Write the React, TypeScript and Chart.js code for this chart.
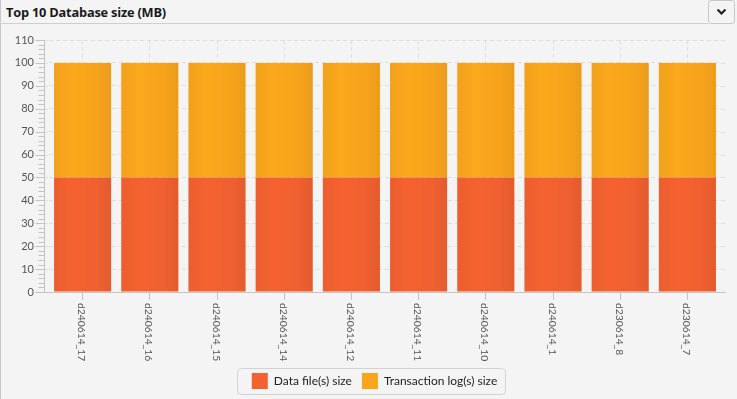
import React, { useEffect, useRef } from "react";
import { Chart, registerables } from "chart.js";

Chart.register(...registerables);

const categories = [
  "d240614_17",
  "d240614_16",
  "d240614_15",
  "d240614_14",
  "d240614_12",
  "d240614_11",
  "d240614_10",
  "d240614_1",
  "d230614_8",
  "d230614_7",
];
const dataFileSize = [50, 50, 50, 50, 50, 50, 50, 50, 50, 50];
const transactionLogSize = [50, 50, 50, 50, 50, 50, 50, 50, 50, 50];
const yMax = 110;
const yStep = 10;
const yMinorStep = 2;

const FONT = "Lato, 'Open Sans', sans-serif";
const AXIS_COLOR = "#c4c4c4";
const GRID_COLOR = "#dedede";
const DASH = [4, 3];
const GAP = 5; // inset of category range inside the axis frame

function shade(hex: string, f: number) {
  const n = parseInt(hex.slice(1), 16);
  const r = Math.round(((n >> 16) & 255) * f);
  const g = Math.round(((n >> 8) & 255) * f);
  const b = Math.round((n & 255) * f);
  return `rgb(${Math.min(255, r)},${Math.min(255, g)},${Math.min(255, b)})`;
}

const gradientPlugin = {
  id: "barGradient",
  beforeDatasetsDraw(chart: any) {
    const ctx = chart.ctx;
    chart.data.datasets.forEach((ds: any, di: number) => {
      const meta = chart.getDatasetMeta(di);
      const base = ds.baseColor as string;
      meta.data.forEach((el: any) => {
        const half = el.width / 2;
        const g = ctx.createLinearGradient(el.x - half, 0, el.x + half, 0);
        g.addColorStop(0, shade(base, 0.97));
        g.addColorStop(0.3, shade(base, 1.01));
        g.addColorStop(0.75, shade(base, 0.99));
        g.addColorStop(1, shade(base, 0.94));
        el.options = Object.assign({}, el.options, { backgroundColor: g });
      });
    });
  },
};

const axisExtrasPlugin = {
  id: "axisExtras",
  afterLayout(chart: any) {
    const lg = chart.legend;
    if (lg) {
      lg.left += 14;
      lg.right += 14;
    }
  },
  beforeDatasetsDraw(chart: any) {
    const ctx = chart.ctx;
    const ys = chart.scales.y;
    const ca = chart.chartArea;
    ctx.save();
    ctx.strokeStyle = GRID_COLOR;
    ctx.lineWidth = 1;
    ctx.setLineDash(DASH);
    for (let v = 0; v <= yMax; v += yStep) {
      const py = Math.round(ys.getPixelForValue(v)) + 0.5;
      ctx.beginPath();
      ctx.moveTo(ca.left - GAP, py);
      ctx.lineTo(ca.left, py);
      ctx.moveTo(ca.right, py);
      ctx.lineTo(ca.right + GAP, py);
      ctx.stroke();
    }
    ctx.restore();
  },
  afterDatasetsDraw(chart: any) {
    const ctx = chart.ctx;
    const ys = chart.scales.y;
    const xs = chart.scales.x;
    const ca = chart.chartArea;
    const axisX = ca.left - GAP + 0.5;
    const axisY = Math.round(ys.getPixelForValue(0)) + 0.5;
    ctx.save();
    ctx.strokeStyle = AXIS_COLOR;
    ctx.lineWidth = 1;
    // axis lines
    ctx.beginPath();
    ctx.moveTo(axisX, Math.round(ys.getPixelForValue(yMax)));
    ctx.lineTo(axisX, axisY);
    ctx.lineTo(ca.right + GAP, axisY);
    ctx.stroke();
    // y ticks: major and minor
    for (let v = 0; v <= yMax; v += yMinorStep) {
      const major = v % yStep === 0;
      const py = Math.round(ys.getPixelForValue(v)) + 0.5;
      ctx.beginPath();
      ctx.moveTo(axisX - (major ? 9 : 6), py);
      ctx.lineTo(axisX, py);
      ctx.stroke();
    }
    // x labels rotated clockwise (read top to bottom)
    ctx.fillStyle = "#555";
    ctx.font = `10.3px ${FONT}`;
    ctx.textAlign = "left";
    ctx.textBaseline = "middle";
    const labels = chart.data.labels as string[];
    labels.forEach((lab, i) => {
      const px = xs.getPixelForTick(i);
      ctx.save();
      ctx.translate(px - 1, xs.top + 11);
      ctx.rotate(Math.PI / 2);
      ctx.fillText(lab, 0, 0);
      ctx.restore();
    });
    ctx.restore();
  },
  afterDraw(chart: any) {
    const ctx = chart.ctx;
    const lg = chart.legend;
    if (lg && lg.legendHitBoxes && lg.legendHitBoxes.length) {
      const boxes = lg.legendHitBoxes;
      const l = boxes[0].left - 15;
      const r = boxes[boxes.length - 1].left + boxes[boxes.length - 1].width + 8;
      const t = boxes[0].top - 5;
      const b = boxes[0].top + boxes[0].height + 5;
      ctx.save();
      ctx.strokeStyle = "#d2d2d2";
      ctx.lineWidth = 1;
      ctx.beginPath();
      (ctx as any).roundRect(Math.round(l) + 0.5, Math.round(t) + 0.5, Math.round(r - l), Math.round(b - t), 4);
      ctx.stroke();
      ctx.restore();
    }
  },
};

function BarChart() {
  const ref = useRef<HTMLCanvasElement | null>(null);
  useEffect(() => {
    if (!ref.current) return;
    const chart = new Chart(ref.current, {
      type: "bar",
      data: {
        labels: categories,
        datasets: [
          {
            label: "Data file(s) size",
            data: dataFileSize,
            backgroundColor: "#F26130",
            baseColor: "#F26130",
            barPercentage: 0.85,
            categoryPercentage: 1,
          } as any,
          {
            label: "Transaction log(s) size",
            data: transactionLogSize,
            backgroundColor: "#F9A61C",
            baseColor: "#F9A61C",
            barPercentage: 0.85,
            categoryPercentage: 1,
          } as any,
        ],
      },
      options: {
        animation: false,
        responsive: false,
        maintainAspectRatio: false,
        layout: { padding: { top: 15, right: 16, left: 0, bottom: 0 } },
        plugins: {
          title: { display: false },
          tooltip: { enabled: false },
          legend: {
            display: true,
            position: "bottom",
            labels: {
              boxWidth: 16,
              boxHeight: 16,
              padding: 10,
              color: "#222",
              font: { family: FONT, size: 12 },
            },
          },
        },
        scales: {
          x: {
            stacked: true,
            offset: true,
            grid: {
              offset: false,
              color: GRID_COLOR,
              tickColor: AXIS_COLOR,
              tickLength: 8,
              drawTicks: true,
              tickBorderDash: [],
            },
            border: { display: false, dash: DASH },
            ticks: {
              color: "transparent",
              minRotation: 90,
              maxRotation: 90,
              autoSkip: false,
              font: { family: FONT, size: 11 },
            },
            afterFit: (scale: any) => {
              scale.height = 71;
            },
          },
          y: {
            stacked: true,
            min: 0,
            max: yMax,
            grid: {
              color: GRID_COLOR,
              drawTicks: true,
              tickLength: 13,
              tickColor: "rgba(0,0,0,0)",
            },
            border: { display: false, dash: DASH },
            ticks: {
              stepSize: yStep,
              color: "#555",
              padding: 2,
              font: { family: FONT, size: 11 },
            },
            afterFit: (scale: any) => {
              scale.width = 49;
            },
          },
        },
      } as any,
      plugins: [gradientPlugin, axisExtrasPlugin],
    });
    return () => chart.destroy();
  }, []);
  return <canvas ref={ref} width={737} height={374} style={{ display: "block" }} />;
}

export default function App() {
  useEffect(() => {
    document.body.style.margin = "0";
  }, []);
  return (
    <div
      style={{
        position: "fixed",
        left: 0,
        top: 0,
        width: 737,
        height: 399,
        background: "#f4f4f4",
        overflow: "hidden",
        fontFamily: FONT,
      }}
    >
      <div
        style={{
          position: "absolute",
          left: 0,
          top: 0,
          width: 1,
          height: 399,
          background: "#c8c8c8",
        }}
      />
      <div
        style={{
          position: "absolute",
          left: 0,
          top: 0,
          width: 708,
          height: 24,
          borderBottom: "1px solid #cfcfcf",
          boxSizing: "border-box",
        }}
      />
      <div
        style={{
          position: "absolute",
          left: 6,
          top: 3,
          fontSize: 12.8,
          fontWeight: 700,
          color: "#1a1a1a",
          lineHeight: "18px",
          letterSpacing: -0.2,
          fontFamily: "'Open Sans', sans-serif",
        }}
      >
        Top 10 Database size (MB)
      </div>
      <div
        style={{
          position: "absolute",
          left: 708,
          top: 0,
          width: 27,
          height: 24,
          border: "1px solid #c8c8c8",
          borderRadius: 3,
          boxSizing: "border-box",
          background: "#f4f4f4",
          display: "flex",
          alignItems: "center",
          justifyContent: "center",
        }}
      >
        <svg width="9" height="6" viewBox="0 0 9 6">
          <path d="M0.5 0.5 L4.5 4.5 L8.5 0.5" stroke="#222" strokeWidth="2.2" fill="none" />
        </svg>
      </div>
      <div style={{ position: "absolute", left: 0, top: 25 }}>
        <BarChart />
      </div>
    </div>
  );
}
